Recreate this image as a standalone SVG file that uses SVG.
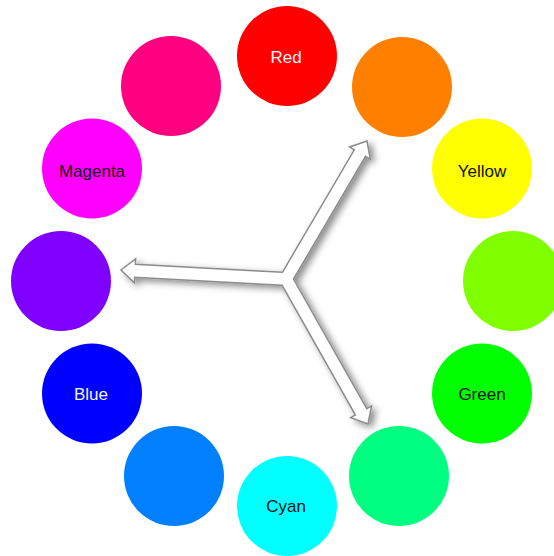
<svg xmlns="http://www.w3.org/2000/svg" width="554" height="556" viewBox="0 0 554 556">
  <defs>
    <filter id="shadow" x="-20%" y="-20%" width="150%" height="150%">
      <feGaussianBlur in="SourceAlpha" stdDeviation="3.5"/>
      <feOffset dx="4" dy="3" result="b"/>
      <feFlood flood-color="#000" flood-opacity="0.45"/>
      <feComposite in2="b" operator="in" result="s"/>
      <feMerge>
        <feMergeNode in="s"/>
        <feMergeNode in="SourceGraphic"/>
      </feMerge>
    </filter>
  </defs>
  <style>
    .hue { stroke: none; }
    .lbl { font-family: "Liberation Sans", Arial, sans-serif; font-size: 17px; text-anchor: middle; }
    .dark { fill: #111; }
    .light { fill: #f4f4f4; }
    .arrow { fill: #fff; stroke: #8c8c8c; stroke-width: 1.5; stroke-linejoin: miter; }
  </style>
  <rect width="554" height="556" fill="#fff"/>

  <g id="node-red"><circle class="hue" cx="287" cy="56" r="50" fill="#ff0000"/><text class="lbl light" x="286" y="63">Red</text></g>
  <g id="node-orange"><circle class="hue" cx="402" cy="87" r="50" fill="#ff8000"/></g>
  <g id="node-yellow"><circle class="hue" cx="482" cy="168.5" r="50" fill="#ffff00"/><text class="lbl dark" x="482" y="177">Yellow</text></g>
  <g id="node-chartreuse"><circle class="hue" cx="513" cy="281" r="50" fill="#80ff00"/></g>
  <g id="node-green"><circle class="hue" cx="482" cy="393.5" r="50" fill="#00ff00"/><text class="lbl dark" x="482" y="399.5">Green</text></g>
  <g id="node-spring"><circle class="hue" cx="399" cy="476" r="50" fill="#00ff80"/></g>
  <g id="node-cyan"><circle class="hue" cx="287" cy="506" r="50" fill="#00ffff"/><text class="lbl dark" x="286" y="512">Cyan</text></g>
  <g id="node-azure"><circle class="hue" cx="174" cy="476" r="50" fill="#0080ff"/></g>
  <g id="node-blue"><circle class="hue" cx="92" cy="393.5" r="50" fill="#0000ff"/><text class="lbl light" x="91" y="399.5">Blue</text></g>
  <g id="node-violet"><circle class="hue" cx="61" cy="281" r="50" fill="#8000ff"/></g>
  <g id="node-magenta"><circle class="hue" cx="92" cy="168.5" r="50" fill="#ff00ff"/><text class="lbl dark" x="92" y="177">Magenta</text></g>
  <g id="node-rose"><circle class="hue" cx="171" cy="86" r="50" fill="#ff0080"/></g>

  <g id="connectors" filter="url(#shadow)">
    <polygon class="arrow" points="282.40,272.29 354.31,149.79 349.57,147.01 367,141 370.27,159.15 365.53,156.37 293.50,279.06 366.77,408.61 371.55,405.90 368,424 350.67,417.72 355.45,415.01 282.09,285.29 134.63,277.25 134.33,282.74 121,270 135.63,258.78 135.33,264.27"/>
  </g>
</svg>
